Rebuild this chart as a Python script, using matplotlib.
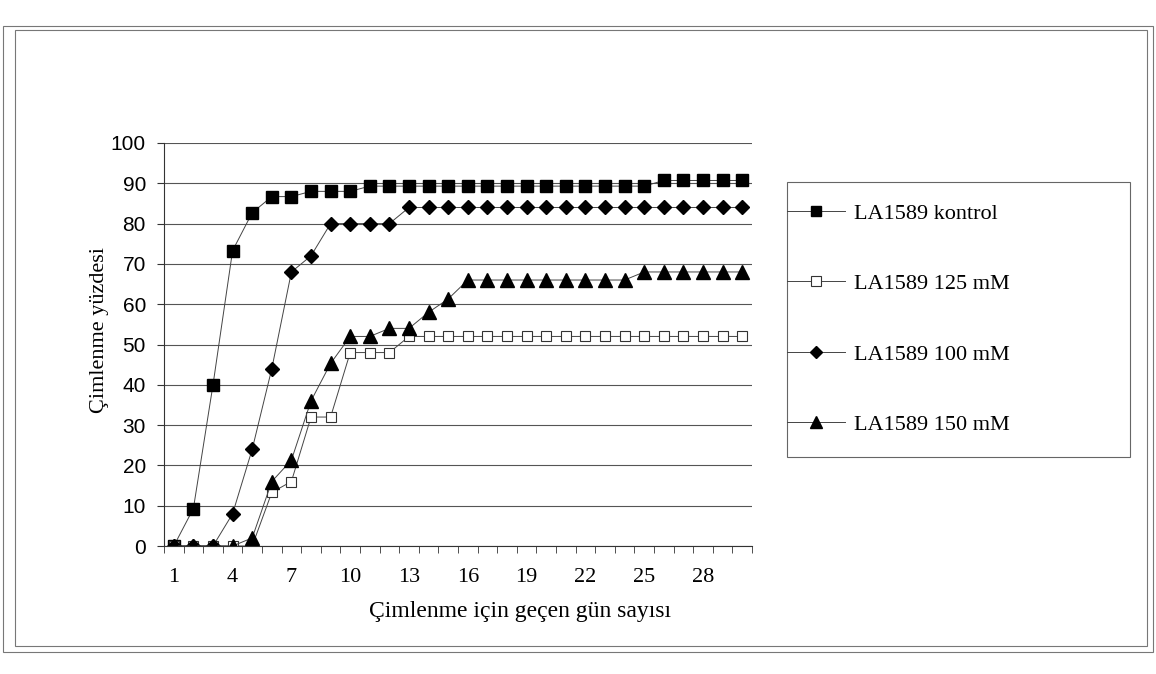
import numpy as np
import matplotlib
matplotlib.use("Agg")
import matplotlib.pyplot as plt
from matplotlib.lines import Line2D
from matplotlib.patches import Rectangle


# -------------------------------------------------------------------------
# Data (germination %, days 1..30)
# -------------------------------------------------------------------------

days = list(range(1, 31))
tick_days = [1, 4, 7, 10, 13, 16, 19, 22, 25, 28]

kontrol = [0, 9.3, 40, 73.3, 82.7, 86.7, 86.7, 88, 88, 88,
           89.3, 89.3, 89.3, 89.3, 89.3, 89.3, 89.3, 89.3, 89.3, 89.3,
           89.3, 89.3, 89.3, 89.3, 89.3, 90.7, 90.7, 90.7, 90.7, 90.7]
mm125 = [0, 0, 0, 0, 0, 13.3, 16, 32, 32, 48,
         48, 48, 52, 52, 52, 52, 52, 52, 52, 52,
         52, 52, 52, 52, 52, 52, 52, 52, 52, 52]
mm100 = [0, 0, 0, 8, 24, 44, 68, 72, 80, 80,
         80, 80, 84, 84, 84, 84, 84, 84, 84, 84,
         84, 84, 84, 84, 84, 84, 84, 84, 84, 84]
mm150 = [0, 0, 0, 0, 2, 16, 21.3, 36, 45.3, 52,
         52, 54, 54, 58, 61.3, 66, 66, 66, 66, 66,
         66, 66, 66, 66, 68, 68, 68, 68, 68, 68]

labels = ["LA1589 kontrol", "LA1589 125 mM", "LA1589 100 mM", "LA1589 150 mM"]

SERIF = "Liberation Serif"
SANS = "Liberation Sans"
W, H = 1156, 674


def fx(px):
    return px / W


def fy(py):
    return 1 - py / H


def main() -> None:
    fig = plt.figure(figsize=(W / 100, H / 100), dpi=100)
    fig.patch.set_facecolor("white")

    # double chart-area border, like the scanned Excel chart
    for (x0, y0, x1, y1) in [(3, 26, 1153, 652), (15, 30, 1147, 646)]:
        fig.patches.append(Rectangle((fx(x0), fy(y1)), fx(x1) - fx(x0), fy(y0) - fy(y1),
                                     transform=fig.transFigure, fill=False,
                                     edgecolor="#777777", linewidth=0.8))

    ax = fig.add_axes([fx(164), fy(546), fx(752) - fx(164), fy(143) - fy(546)])

    line_kw = dict(color="#444444", linewidth=0.7)
    ax.plot(days, kontrol, marker="s", markersize=9, markerfacecolor="black",
            markeredgecolor="black", **line_kw)
    ax.plot(days, mm125, marker="s", markersize=7.5, markerfacecolor="white",
            markeredgecolor="#333333", markeredgewidth=0.8, **line_kw)
    ax.plot(days, mm100, marker="D", markersize=7, markerfacecolor="black",
            markeredgecolor="black", **line_kw)
    ax.plot(days, mm150, marker="^", markersize=10.5, markerfacecolor="black",
            markeredgecolor="black", **line_kw)

    ax.set_xlim(0.5, 30.5)
    ax.set_ylim(0, 100)
    ax.set_yticks(range(0, 101, 10))
    ax.yaxis.grid(True, color="#555555", linewidth=0.8)
    ax.set_axisbelow(True)

    for side in ["top", "right"]:
        ax.spines[side].set_visible(False)
    ax.spines["left"].set_color("#333333")
    ax.spines["bottom"].set_color("#333333")
    ax.spines["left"].set_linewidth(0.8)
    ax.spines["bottom"].set_linewidth(0.8)

    ax.set_xticks(tick_days)
    ax.set_xticklabels([str(d) for d in tick_days], fontfamily=SERIF, fontsize=16)
    ax.set_xticks(np.arange(0.5, 31, 1), minor=True)
    ax.tick_params(axis="x", which="major", length=0, pad=16)
    ax.tick_params(axis="x", which="minor", length=5, direction="out", color="#333333")
    ax.tick_params(axis="y", length=5, direction="out", color="#333333", pad=8)
    for lab in ax.get_yticklabels():
        lab.set_fontfamily(SANS)
        lab.set_fontsize(15)

    fig.text(fx(520), fy(612), "Çimlenme için geçen gün sayısı", fontfamily=SERIF,
             fontsize=17, ha="center", va="center")
    fig.text(fx(100), fy(330), "Çimlenme yüzdesi", fontfamily=SERIF, fontsize=16,
             rotation=90, ha="center", va="center")

    # legend box drawn separately so it can be wider than its text
    fig.patches.append(Rectangle((fx(787), fy(457)), fx(1130) - fx(787), fy(182) - fy(457),
                                 transform=fig.transFigure, fill=False,
                                 edgecolor="#666666", linewidth=0.8))
    handles = [
        Line2D([], [], marker="s", markersize=7.5, markerfacecolor="black",
               markeredgecolor="black", **line_kw),
        Line2D([], [], marker="s", markersize=7, markerfacecolor="white",
               markeredgecolor="#333333", markeredgewidth=0.8, **line_kw),
        Line2D([], [], marker="D", markersize=6.5, markerfacecolor="black",
               markeredgecolor="black", **line_kw),
        Line2D([], [], marker="^", markersize=9, markerfacecolor="black",
               markeredgecolor="black", **line_kw),
    ]
    fig.legend(handles, labels, loc="upper left", bbox_to_anchor=(fx(787), fy(203)),
               frameon=False, prop={"family": SERIF, "size": 16},
               labelspacing=2.25, handlelength=2.6, handletextpad=0.4,
               borderpad=0, borderaxespad=0)

    fig.savefig("out.png", dpi=100)
    plt.close(fig)


if __name__ == "__main__":
    main()
